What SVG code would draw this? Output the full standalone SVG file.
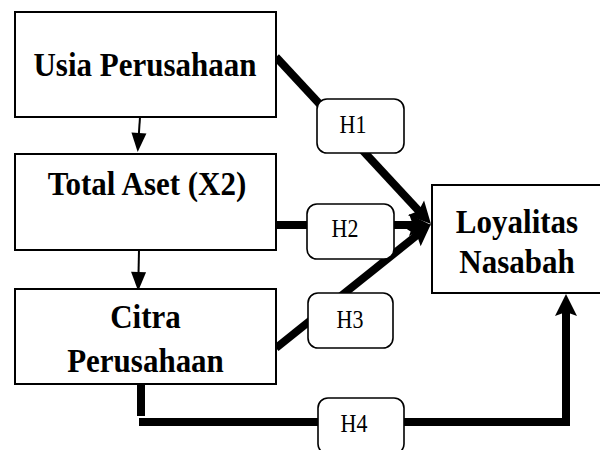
<svg xmlns="http://www.w3.org/2000/svg" width="600" height="450" viewBox="0 0 600 450">
<style>
.box{fill:#fff;stroke:#000;stroke-width:2}
.hbox{fill:#fff;stroke:#000;stroke-width:1.6}
.t{font-family:'Liberation Serif','Times New Roman',Times,serif;font-weight:bold;font-size:31px;text-anchor:middle;fill:#000}
.h{font-family:'Liberation Serif','Times New Roman',Times,serif;font-size:22px;text-anchor:middle;fill:#000}
.thick{fill:none;stroke:#000;stroke-width:8}
.thin{fill:none;stroke:#000;stroke-width:2}
</style>
<defs>
<marker id="big" markerUnits="userSpaceOnUse" markerWidth="22" markerHeight="22" refX="10" refY="11" orient="auto" overflow="visible">
<path d="M0,0 L22,11 L0,22 L4,11 z" fill="#000"/>
</marker>
<marker id="small" markerUnits="userSpaceOnUse" markerWidth="19" markerHeight="15" refX="8" refY="7.5" orient="auto" overflow="visible">
<path d="M0,0 L19,7.5 L0,15 z" fill="#000"/>
</marker>
</defs>
<g id="connectors">
<line class="thin" x1="140" y1="117" x2="138.4" y2="141" marker-end="url(#small)"/>
<line class="thin" x1="139" y1="250" x2="138.4" y2="280" marker-end="url(#small)"/>
<line class="thick" x1="276" y1="57" x2="422.8" y2="215.2" marker-end="url(#big)"/>
<line class="thick" x1="276" y1="225" x2="419" y2="225" marker-end="url(#big)"/>
<line class="thick" x1="276" y1="348" x2="421.6" y2="231.5" marker-end="url(#big)"/>
<line class="thick" x1="141" y1="384" x2="141" y2="416"/>
<path class="thick" d="M139,422 H566 V306" stroke-linejoin="miter" marker-end="url(#big)"/>
</g>
<g id="usia">
<rect class="box" x="15" y="12" width="261" height="105"/>
<text class="t" transform="translate(145,76) scale(1,1.12)">Usia Perusahaan</text>
</g>
<g id="total">
<rect class="box" x="15" y="154" width="261" height="96"/>
<text class="t" transform="translate(147,195) scale(1,1.12)">Total Aset (X2)</text>
</g>
<g id="citra">
<rect class="box" x="15" y="289" width="261" height="95"/>
<text class="t" transform="translate(145.5,328) scale(1,1.12)">Citra</text>
<text class="t" transform="translate(145.5,372) scale(1,1.12)">Perusahaan</text>
</g>
<g id="loyalitas">
<rect class="box" x="432" y="185" width="172" height="108"/>
<text class="t" transform="translate(517,233) scale(1,1.12)">Loyalitas</text>
<text class="t" transform="translate(517,273) scale(1,1.12)">Nasabah</text>
</g>
<g id="h1">
<rect class="hbox" x="317" y="99" width="87" height="54" rx="10"/>
<text class="h" transform="translate(353,133) scale(1,1.12)">H1</text>
</g>
<g id="h2">
<rect class="hbox" x="307" y="204" width="87" height="55" rx="10"/>
<text class="h" transform="translate(345,237) scale(1,1.12)">H2</text>
</g>
<g id="h3">
<rect class="hbox" x="308" y="293" width="85" height="55" rx="10"/>
<text class="h" transform="translate(350,328) scale(1,1.12)">H3</text>
</g>
<g id="h4">
<rect class="hbox" x="318" y="398" width="86" height="56" rx="10"/>
<text class="h" transform="translate(354,432) scale(1,1.12)">H4</text>
</g>
</svg>
